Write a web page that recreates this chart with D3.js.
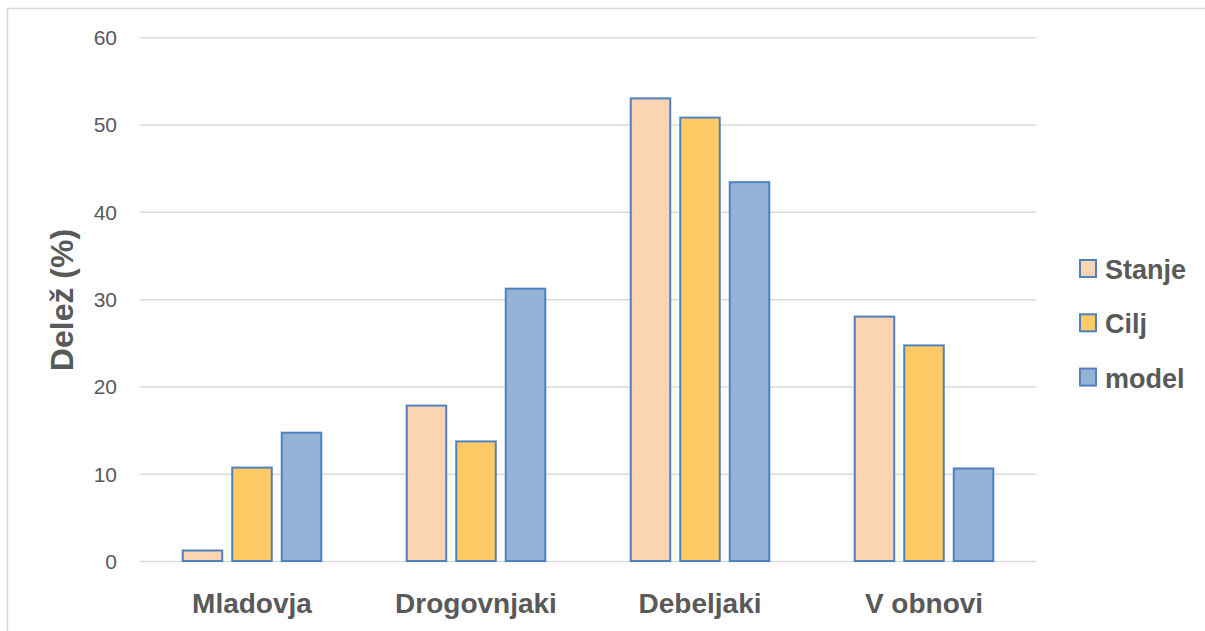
<!DOCTYPE html>
<html>
<head>
<meta charset="utf-8">
<script src="https://cdn.jsdelivr.net/npm/d3@7"></script>
<style>
  html, body { margin: 0; padding: 0; background: #fff; }
  svg { display: block; }
</style>
</head>
<body>
<svg id="chart" width="1205" height="631"></svg>
<script>
// Shares by forest development stage
const categories = ["Mladovja", "Drogovnjaki", "Debeljaki", "V obnovi"];
const seriesNames = ["Stanje", "Cilj", "model"];
const stanje = [1.2, 17.8, 53.0, 28.0];
const cilj = [10.7, 13.7, 50.8, 24.7];
const model = [14.7, 31.2, 43.4, 10.6];
const yTicks = [0, 10, 20, 30, 40, 50, 60];
const yTitle = "Delež (%)";

const seriesValues = [stanje, cilj, model];
const fills = ["#FBD4B4", "#FFCA63", "#95B3D7"];
const strokeColor = "#4F81BD";
const textColor = "#595959";
const fontFamily = "'Liberation Sans', Arial, sans-serif";

const svg = d3.select("#chart");
const W = 1205, H = 631;

// Outer frame (top and left edges visible)
svg.append("path")
  .attr("d", `M7.5,${H} L7.5,8.5 L${W},8.5`)
  .attr("fill", "none")
  .attr("stroke", "#D9D9D9")
  .attr("stroke-width", 1.5);

const plot = { left: 140, right: 1036, top: 37.3, bottom: 561 };

const x0 = d3.scaleBand()
  .domain(categories)
  .range([plot.left, plot.right])
  .paddingInner(0)
  .paddingOuter(0);

const groupPad = 42.75;
const x1 = d3.scaleBand()
  .domain(seriesNames)
  .range([groupPad, x0.bandwidth() - groupPad])
  .paddingInner(10 / 49.5)
  .paddingOuter(0);

const y = d3.scaleLinear()
  .domain([0, 60])
  .range([plot.bottom, plot.top]);

// Gridlines and value axis labels
const yAxis = d3.axisLeft(y)
  .tickValues(yTicks)
  .tickSize(-(plot.right - plot.left))
  .tickPadding(23)
  .tickFormat(d3.format("d"));

const gy = svg.append("g")
  .attr("transform", `translate(${plot.left},0)`)
  .call(yAxis);
gy.select(".domain").remove();
gy.selectAll(".tick line")
  .attr("stroke", "#D9D9D9")
  .attr("stroke-width", 1.5);
gy.selectAll(".tick text")
  .attr("fill", textColor)
  .attr("font-family", fontFamily)
  .attr("font-size", 21)
  .attr("dy", "0.35em");

// Bars
const rows = categories.map((c, i) => ({
  category: c,
  values: seriesNames.map((s, j) => ({ series: s, idx: j, value: seriesValues[j][i] }))
}));

const groups = svg.append("g").selectAll("g")
  .data(rows)
  .join("g")
  .attr("transform", d => `translate(${x0(d.category)},0)`);

groups.selectAll("rect")
  .data(d => d.values)
  .join("rect")
  .attr("x", d => x1(d.series))
  .attr("width", x1.bandwidth())
  .attr("y", d => y(d.value))
  .attr("height", d => y(0) - y(d.value))
  .attr("fill", d => fills[d.idx])
  .attr("stroke", strokeColor)
  .attr("stroke-width", 2);

// Category axis labels
const xAxis = d3.axisBottom(x0).tickSize(0).tickPadding(0);
const gx = svg.append("g")
  .attr("transform", `translate(0,${plot.bottom})`)
  .call(xAxis);
gx.select(".domain").remove();
gx.selectAll(".tick text")
  .attr("fill", textColor)
  .attr("font-family", fontFamily)
  .attr("font-weight", "bold")
  .attr("font-size", 28)
  .attr("dy", null)
  .attr("y", 52);

// Value axis title
svg.append("text")
  .attr("transform", "translate(73,300) rotate(-90)")
  .attr("text-anchor", "middle")
  .attr("fill", textColor)
  .attr("font-family", fontFamily)
  .attr("font-weight", "bold")
  .attr("font-size", 32)
  .text(yTitle);

// Legend
const legend = svg.append("g")
  .selectAll("g")
  .data(seriesNames)
  .join("g")
  .attr("transform", (d, i) => `translate(1079,${259 + i * 54.3})`);

legend.append("rect")
  .attr("x", 1)
  .attr("y", 1)
  .attr("width", 16)
  .attr("height", 17)
  .attr("fill", (d, i) => fills[i])
  .attr("stroke", strokeColor)
  .attr("stroke-width", 2);

legend.append("text")
  .attr("x", 26)
  .attr("y", 20)
  .attr("fill", textColor)
  .attr("font-family", fontFamily)
  .attr("font-weight", "bold")
  .attr("font-size", 27)
  .text(d => d);
</script>
</body>
</html>
